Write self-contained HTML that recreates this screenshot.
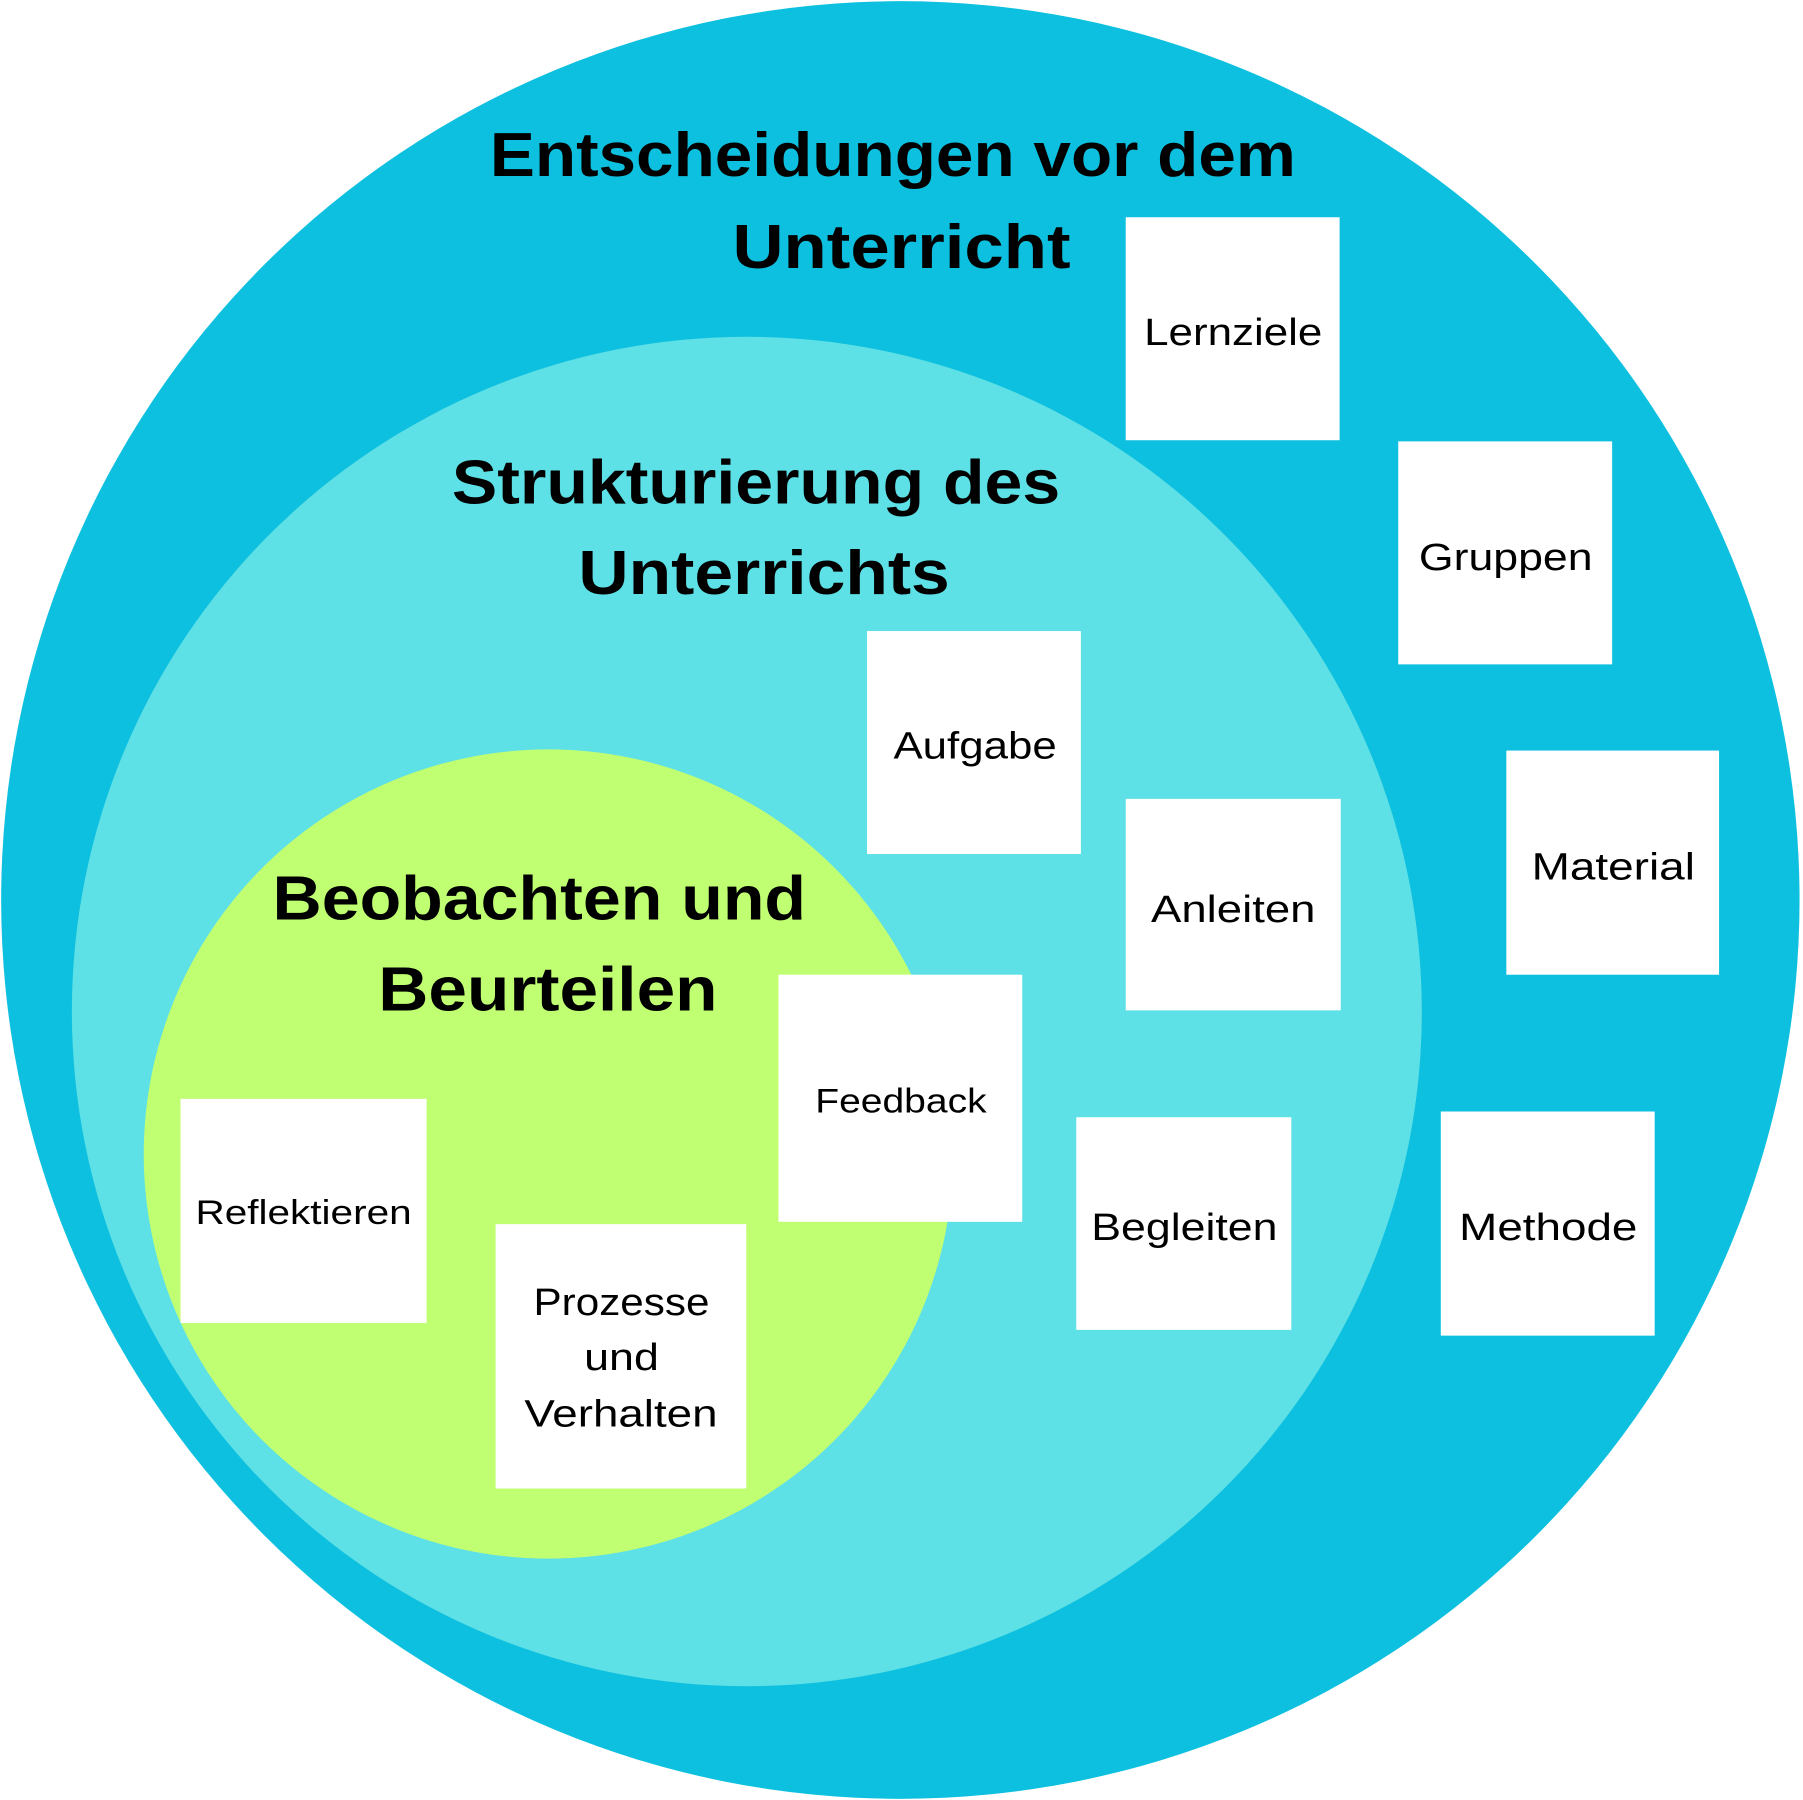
<!DOCTYPE html>
<html><head><meta charset="utf-8"><style>
html,body{margin:0;padding:0;background:#fff}
svg{display:block}
text{font-family:"Liberation Sans",sans-serif;fill:#000}
.t{font-weight:bold;font-size:54px}
.b{font-size:33px}
.s{font-size:30px}
</style></head><body>
<svg width="1803" height="1800" viewBox="0 0 1568 1566" preserveAspectRatio="none">
<rect width="1568" height="1566" fill="#fff"/>
<circle cx="783" cy="783" r="782" fill="#0EC0DF"/>
<circle cx="649.5" cy="880" r="587" fill="#5DE0E6"/>
<circle cx="477" cy="1004" r="352" fill="#C1FF72"/>
<text class="t" x="426" y="153" textLength="701" lengthAdjust="spacingAndGlyphs">Entscheidungen vor dem</text>
<text class="t" x="637" y="233" textLength="294" lengthAdjust="spacingAndGlyphs">Unterricht</text>
<text class="t" x="393" y="438" textLength="529" lengthAdjust="spacingAndGlyphs">Strukturierung des</text>
<text class="t" x="503" y="517" textLength="323" lengthAdjust="spacingAndGlyphs">Unterrichts</text>
<text class="t" x="237" y="800" textLength="464" lengthAdjust="spacingAndGlyphs">Beobachten und</text>
<text class="t" x="329" y="879" textLength="295" lengthAdjust="spacingAndGlyphs">Beurteilen</text>
<g fill="#fff">
<rect x="979" y="189" width="186" height="194"/>
<rect x="1216" y="384" width="186" height="194"/>
<rect x="754" y="549" width="186" height="194"/>
<rect x="1310" y="653" width="185" height="195"/>
<rect x="979" y="695" width="187" height="184"/>
<rect x="677" y="848" width="212" height="215"/>
<rect x="936" y="972" width="187" height="185"/>
<rect x="1253" y="967" width="186" height="195"/>
<rect x="157" y="956" width="214" height="195"/>
<rect x="431" y="1065" width="218" height="230"/>
</g>
<text class="b" x="995" y="300" textLength="155" lengthAdjust="spacingAndGlyphs">Lernziele</text>
<text class="b" x="1234" y="496" textLength="151" lengthAdjust="spacingAndGlyphs">Gruppen</text>
<text class="b" x="777" y="660" textLength="142" lengthAdjust="spacingAndGlyphs">Aufgabe</text>
<text class="b" x="1332" y="765" textLength="142" lengthAdjust="spacingAndGlyphs">Material</text>
<text class="b" x="1001" y="802" textLength="143" lengthAdjust="spacingAndGlyphs">Anleiten</text>
<text class="s" x="709" y="968" textLength="149" lengthAdjust="spacingAndGlyphs">Feedback</text>
<text class="b" x="949" y="1079" textLength="162" lengthAdjust="spacingAndGlyphs">Begleiten</text>
<text class="b" x="1269" y="1079" textLength="155" lengthAdjust="spacingAndGlyphs">Methode</text>
<text class="s" x="170" y="1065" textLength="188" lengthAdjust="spacingAndGlyphs">Reflektieren</text>
<text class="b" x="464" y="1144" textLength="153" lengthAdjust="spacingAndGlyphs">Prozesse</text>
<text class="b" x="508" y="1192" textLength="65" lengthAdjust="spacingAndGlyphs">und</text>
<text class="b" x="456" y="1241" textLength="168" lengthAdjust="spacingAndGlyphs">Verhalten</text>
</svg>
</body></html>
